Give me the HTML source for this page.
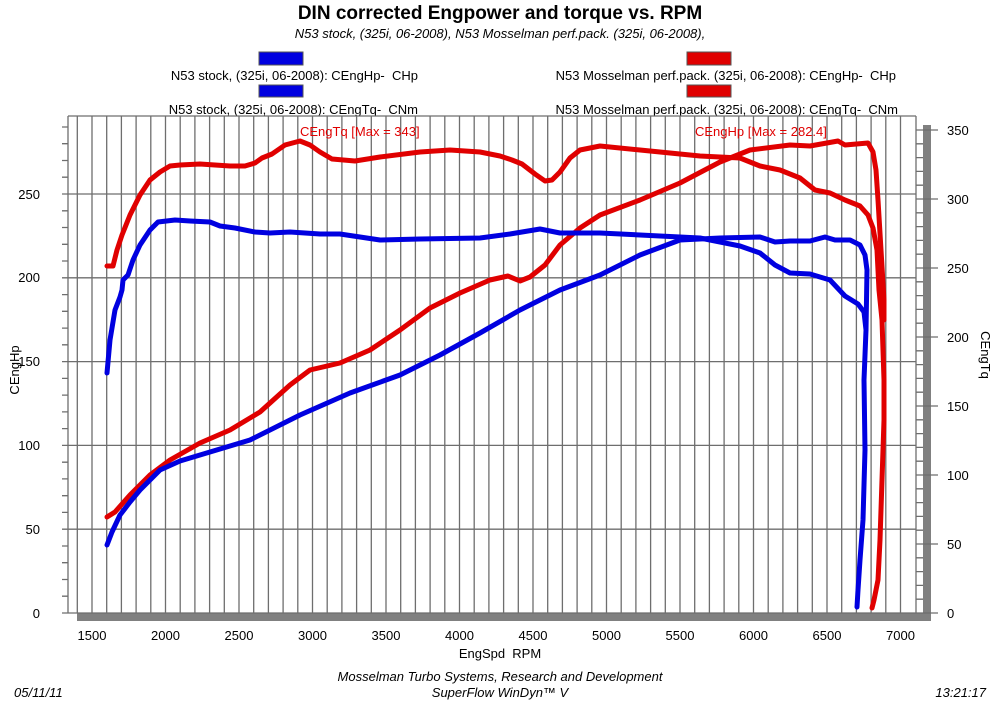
<!DOCTYPE html>
<html><head><style>
body{margin:0;background:#fff;}
svg text{font-family:"Liberation Sans",Arial,sans-serif;white-space:pre;}
</style></head><body>
<svg width="1000" height="700" xmlns="http://www.w3.org/2000/svg" xml:space="preserve">
<rect width="1000" height="700" fill="#fff"/>
<text x="500" y="19" font-size="19" font-weight="bold" text-anchor="middle">DIN corrected Engpower and torque vs. RPM</text>
<text x="500" y="38" font-size="13" font-style="italic" text-anchor="middle">N53 stock, (325i, 06-2008), N53 Mosselman perf.pack. (325i, 06-2008),</text>
<rect x="259" y="52" width="44" height="13" fill="#0000e0" stroke="#555" stroke-width="1"/>
<rect x="259" y="85" width="44" height="12" fill="#0000e0" stroke="#555" stroke-width="1"/>
<rect x="687" y="52" width="44" height="13" fill="#e00000" stroke="#555" stroke-width="1"/>
<rect x="687" y="85" width="44" height="12" fill="#e00000" stroke="#555" stroke-width="1"/>
<g font-size="13">
<text x="418" y="80" text-anchor="end">N53 stock, (325i, 06-2008): CEngHp-&#160;&#160;CHp</text>
<text x="418" y="114" text-anchor="end">N53 stock, (325i, 06-2008): CEngTq-&#160;&#160;CNm</text>
<text x="896" y="80" text-anchor="end">N53 Mosselman perf.pack. (325i, 06-2008): CEngHp-&#160;&#160;CHp</text>
<text x="898" y="114" text-anchor="end">N53 Mosselman perf.pack. (325i, 06-2008): CEngTq-&#160;&#160;CNm</text>
</g>
<rect x="77" y="613" width="854" height="8" fill="#808080"/>
<rect x="923" y="125" width="8" height="496" fill="#808080"/>
<rect x="68" y="116" width="848" height="497" fill="#fff"/>
<g stroke="#6e6e6e" stroke-width="1.3" fill="none">
<path d="M77.3 116V613M92 116V613M106.7 116V613M121.4 116V613M136.1 116V613M150.8 116V613M165.5 116V613M180.2 116V613M194.9 116V613M209.6 116V613M224.3 116V613M239 116V613M253.7 116V613M268.4 116V613M283.1 116V613M297.8 116V613M312.5 116V613M327.2 116V613M341.9 116V613M356.6 116V613M371.3 116V613M386 116V613M400.7 116V613M415.4 116V613M430.1 116V613M444.8 116V613M459.5 116V613M474.2 116V613M488.9 116V613M503.6 116V613M518.3 116V613M533 116V613M547.7 116V613M562.4 116V613M577.1 116V613M591.8 116V613M606.5 116V613M621.2 116V613M635.9 116V613M650.6 116V613M665.3 116V613M680 116V613M694.7 116V613M709.4 116V613M724.1 116V613M738.8 116V613M753.5 116V613M768.2 116V613M782.9 116V613M797.6 116V613M812.3 116V613M827 116V613M841.7 116V613M856.4 116V613M871.1 116V613M885.8 116V613M900.5 116V613"/>
<path d="M62 529.2H916M62 445.4H916M62 361.6H916M62 277.8H916M62 194H916"/>
<path d="M62 596.2H68M62 579.5H68M62 562.7H68M62 546H68M62 512.4H68M62 495.7H68M62 478.9H68M62 462.2H68M62 428.6H68M62 411.9H68M62 395.1H68M62 378.4H68M62 344.8H68M62 328.1H68M62 311.3H68M62 294.6H68M62 261H68M62 244.3H68M62 227.5H68M62 210.8H68M62 177.2H68M62 160.5H68M62 143.7H68M62 127H68"/>
<path d="M916 599.2H923M916 585.4H923M916 571.6H923M916 557.8H923M916 544H938M916 530.2H923M916 516.4H923M916 502.6H923M916 488.8H923M916 475H938M916 461.2H923M916 447.4H923M916 433.6H923M916 419.8H923M916 406H938M916 392.2H923M916 378.4H923M916 364.6H923M916 350.8H923M916 337H938M916 323.2H923M916 309.4H923M916 295.6H923M916 281.8H923M916 268H938M916 254.2H923M916 240.4H923M916 226.6H923M916 212.8H923M916 199H938M916 185.2H923M916 171.4H923M916 157.6H923M916 143.8H923M916 130H938M916 613H938"/>
<path d="M68 116H916M68 116V613M916 116V613M62 613H916"/>
</g>
<g font-size="13">
<text x="40" y="618" text-anchor="end">0</text>
<text x="40" y="534" text-anchor="end">50</text>
<text x="40" y="450" text-anchor="end">100</text>
<text x="40" y="366" text-anchor="end">150</text>
<text x="40" y="282" text-anchor="end">200</text>
<text x="40" y="199" text-anchor="end">250</text>
<text x="947" y="618">0</text>
<text x="947" y="549">50</text>
<text x="947" y="480">100</text>
<text x="947" y="411">150</text>
<text x="947" y="342">200</text>
<text x="947" y="273">250</text>
<text x="947" y="204">300</text>
<text x="947" y="135">350</text>
<g text-anchor="middle">
<text x="92" y="640">1500</text><text x="165.5" y="640">2000</text><text x="239" y="640">2500</text>
<text x="312.5" y="640">3000</text><text x="386" y="640">3500</text><text x="459.5" y="640">4000</text>
<text x="533" y="640">4500</text><text x="606.5" y="640">5000</text><text x="680" y="640">5500</text>
<text x="753.5" y="640">6000</text><text x="827" y="640">6500</text><text x="900.5" y="640">7000</text>
</g>
<text x="500" y="658" text-anchor="middle">EngSpd&#160;&#160;RPM</text>
<text transform="translate(19,370) rotate(-90)" text-anchor="middle">CEngHp</text>
<text transform="translate(981,355) rotate(90)" text-anchor="middle">CEngTq</text>
<text x="500" y="681" text-anchor="middle" font-style="italic">Mosselman Turbo Systems, Research and Development</text>
<text x="500" y="697" text-anchor="middle" font-style="italic">SuperFlow WinDyn™ V</text>
<text x="14" y="697" font-style="italic">05/11/11</text>
<text x="986" y="697" text-anchor="end" font-style="italic">13:21:17</text>
<text x="300" y="136" fill="#e00000">CEngTq [Max = 343]</text>
<text x="695" y="136" fill="#e00000">CEngHp [Max = 282.4]</text>
</g>
<g fill="none" stroke-width="5" stroke-linejoin="round" stroke-linecap="round">
<polyline stroke="#e00000" points="107,266 113,266 117,250 122,235 130,215 140,195 150,180 160,172 170,166 180,165 200,164 215,165 230,166 245,166 255,163 262,158 272,154 285,145 300,141 310,145 320,152 332,159 355,161 380,157 420,152 450,150 480,152 500,156 512,160 522,164 535,174 545,181 552,180 560,172 570,158 580,150 600,146 640,150 700,156 740,158 760,166 780,170 800,178 815,190 830,193 845,200 860,206 868,215 873,228 877,250 879,290 882,320 884,380 884,420 882,480 880,540 878,580 874,600 872,608"/>
<polyline stroke="#e00000" points="107,517 115,512 130,495 150,475 170,460 200,443 230,430 260,412 290,385 310,370 340,363 370,350 400,330 430,308 460,293 490,280 508,276 520,281 530,277 545,265 560,245 580,228 600,215 640,200 680,183 720,162 750,150 790,145 810,146 838,141 845,145 868,143 873,152 876,170 878,200 881,250 884,300 884,320"/>
<polyline stroke="#0000e0" points="107,373 110,340 115,310 120,297 122,290 123,280 128,275 133,260 140,245 150,230 158,222 175,220 190,221 210,222 220,226 235,228 255,232 270,233 290,232 320,234 340,234 360,237 380,240 420,239 480,238 510,234 540,229 560,233 600,233 640,235 700,238 740,246 760,253 775,265 790,273 810,274 830,280 845,296 858,304 864,312 866,330 864,380 865,450 863,520 860,560 858,590 857,607"/>
<polyline stroke="#0000e0" points="107,545 112,532 120,515 130,502 140,490 160,470 180,461 200,455 250,440 300,415 350,393 400,375 440,355 480,333 520,310 560,290 600,275 640,255 680,240 720,238 760,237 775,242 790,241 810,241 825,237 835,240 850,240 860,245 865,255 867,270 866,330"/>
</g>
</svg>
</body></html>
